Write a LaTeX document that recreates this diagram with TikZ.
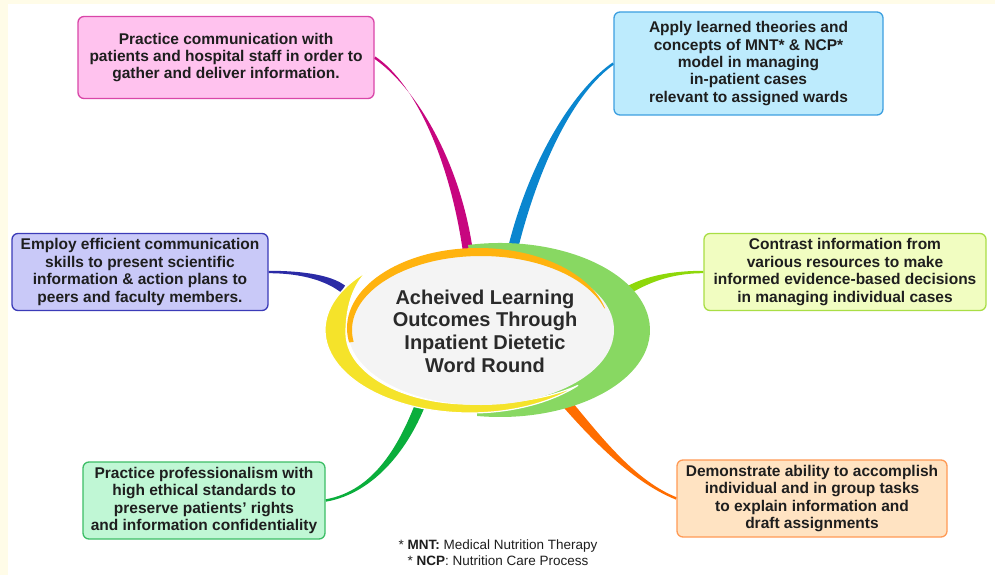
\documentclass[tikz,border=0pt]{standalone}
\usepackage{fontspec}
\setmainfont{Liberation Sans}
\usetikzlibrary{calc}

\definecolor{pagecream}{HTML}{FFFCE8}
\definecolor{inktext}{HTML}{1E1E1E}
\definecolor{hubink}{HTML}{2A2A2A}
\definecolor{hubgray}{HTML}{F4F4F4}
\definecolor{ringyellow}{HTML}{F5E32A}
\definecolor{ringgreen}{HTML}{88D862}
\definecolor{ringorange}{HTML}{FFB30F}

\definecolor{pinkfill}{HTML}{FFC2EE}   \definecolor{pinkline}{HTML}{D946A8}   \definecolor{pinkbranch}{HTML}{C7067F}
\definecolor{bluefill}{HTML}{BDEBFD}   \definecolor{blueline}{HTML}{3D9FE0}   \definecolor{bluebranch}{HTML}{0A86CF}
\definecolor{limefill}{HTML}{F1FDC1}   \definecolor{limeline}{HTML}{A9DE45}   \definecolor{limebranch}{HTML}{8ED80A}
\definecolor{violetfill}{HTML}{C9C9F8} \definecolor{violetline}{HTML}{3B3BB8} \definecolor{violetbranch}{HTML}{2B2BA6}
\definecolor{mintfill}{HTML}{C0F7D5}   \definecolor{mintline}{HTML}{3DBE66}   \definecolor{mintbranch}{HTML}{0AAE3C}
\definecolor{peachfill}{HTML}{FFE3C2}  \definecolor{peachline}{HTML}{FF9A55}  \definecolor{peachbranch}{HTML}{FF6D00}

\pgfdeclarelayer{canvas}
\pgfdeclarelayer{branches}
\pgfsetlayers{canvas,branches,main}

% tapered branch: colour, start, control 1, control 2, end, half-width offset at start, at end
\newcommand\taperbranch[7]{%
  \fill[#1] ($(#2)+(#6)$) .. controls ($(#3)+(#6)$) and ($(#4)+(#7)$) .. ($(#5)+(#7)$)
    -- ($(#5)-(#7)$) .. controls ($(#4)-(#7)$) and ($(#3)-(#6)$) .. ($(#2)-(#6)$) -- cycle;}

\begin{document}
\begin{tikzpicture}[x=1pt,y=-1pt,
  goalbox/.style={draw, rounded corners=6pt, line width=1.3pt, align=center,
    inner sep=0pt, text=inktext,
    font=\fontsize{15.5}{17.35}\selectfont\bfseries},
  hubtext/.style={align=center, text=hubink, inner sep=0pt,
    font=\fontsize{20}{22.7}\selectfont\bfseries},
  notetext/.style={align=center, text=inktext, inner sep=0pt,
    font=\fontsize{13.5}{16}\selectfont}]

\useasboundingbox (0,0) rectangle (995,575);
\begin{pgfonlayer}{canvas}
  \fill[pagecream] (0,0) rectangle (995,575);
  \fill[white] (8,4) rectangle (995,575);
\end{pgfonlayer}

% goal boxes
\node[goalbox, fill=pinkfill, draw=pinkline, minimum width=296pt, minimum height=82pt]
  (pink) at (226,57.5) {Practice communication with\\patients and hospital staff in order to\\gather and deliver information.};
\node[goalbox, fill=bluefill, draw=blueline, minimum width=269pt, minimum height=103pt]
  (blue) at (748.5,63.5) {Apply learned theories and\\concepts of MNT* \& NCP*\\model in managing\\in-patient cases\\relevant to assigned wards};
\node[goalbox, fill=limefill, draw=limeline, minimum width=282pt, minimum height=77pt]
  (lime) at (845,272) {Contrast information from\\various resources to make\\informed evidence-based decisions\\in managing individual cases};
\node[goalbox, fill=violetfill, draw=violetline, minimum width=256pt, minimum height=77pt]
  (violet) at (140,272) {Employ efficient communication\\skills to present scientific\\information \& action plans to\\peers and faculty members.};
\node[goalbox, fill=mintfill, draw=mintline, minimum width=242pt, minimum height=77pt]
  (mint) at (204,500.5) {Practice professionalism with\\high ethical standards to\\preserve patients’ rights\\and information confidentiality};
\node[goalbox, fill=peachfill, draw=peachline, minimum width=270pt, minimum height=77pt]
  (peach) at (812,498.5) {Demonstrate ability to accomplish\\individual and in group tasks\\to explain information and\\draft assignments};

% where each branch disappears under the central rings
\coordinate (pinkEnd) at (468,252);
\coordinate (blueEnd) at (513,248);
\coordinate (limeEnd) at (625,292);
\coordinate (violetEnd) at (343,289);
\coordinate (mintEnd) at (422,400);
\coordinate (peachEnd) at (562,398);

% branches, kept beneath the boxes
\begin{pgfonlayer}{branches}
\taperbranch{pinkbranch}{pink.east}{415,85}{455,160}{pinkEnd}{-0.68,0.99}{4.95,-0.7}
\taperbranch{bluebranch}{blue.west}{575,90}{535,160}{blueEnd}{0.7,0.97}{4.85,1.2}
\taperbranch{limebranch}{lime.west}{670,272}{645,280}{limeEnd}{0,1.2}{2,3.4}
\taperbranch{violetbranch}{violet.east}{305,272}{330,279}{violetEnd}{0,1.2}{-2,3.4}
\taperbranch{mintbranch}{mint.east}{375,492}{405,445}{mintEnd}{0.19,1.18}{4.7,1.8}
\taperbranch{peachbranch}{peach.west}{630,480}{590,430}{peachEnd}{0.42,-1.12}{3.8,-3.3}
\end{pgfonlayer}

% central rings: green crescent on the right
\fill[ringgreen] ($(500,330)+(257.7:150 and 87)$)
  arc[start angle=257.7, end angle=458.8, x radius=150, y radius=87] -- (480,330) -- cycle;
% yellow crescent on the left
\filldraw[ringyellow, draw=white, line width=1.2pt] ($(470,330)+(224.7:145 and 83)$)
  arc[start angle=224.7, end angle=41.8, x radius=145, y radius=83]
  .. controls (548,399) and (510,404) .. (470,404)
  .. controls (401,404) and (346,372) .. (346,333)
  .. controls (346,305) and (354,284) .. cycle;
% grey core
\fill[hubgray] (481,330) ellipse[x radius=133, y radius=75];
% orange rim along the top
\begin{scope}
  \clip (330,345) -- (630,305) -- (630,230) -- (330,230) -- cycle;
  \fill[ringorange, even odd rule] (478,328) ellipse[x radius=131, y radius=80]
    (481,330) ellipse[x radius=129, y radius=74];
\end{scope}

\node[hubtext] (hub) at (485,331) {Acheived Learning\\Outcomes Through\\Inpatient Dietetic\\Word Round};

\node[notetext] (note) at (498,553) {* \textbf{MNT:} Medical Nutrition Therapy\\* \textbf{NCP}: Nutrition Care Process};
\end{tikzpicture}
\end{document}
